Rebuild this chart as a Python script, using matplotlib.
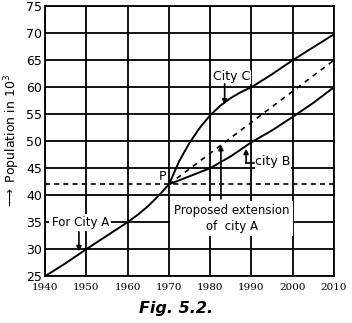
import matplotlib
matplotlib.use("Agg")
import matplotlib.pyplot as plt

# values (population in thousands)
years_a = [1940, 1945, 1950, 1955, 1960, 1962.5, 1965, 1967.5, 1970]
city_a = [25, 27.4, 30, 32.5, 35, 36.4, 38, 39.9, 42]

years_c = [1970, 1972.5, 1975, 1977.5, 1980, 1982.5, 1985, 1987.5, 1990,
           1995, 2000, 2005, 2010]
city_c = [42, 46.3, 49.7, 52.5, 54.8, 56.6, 58, 59.1, 60,
          62.4, 65, 67.4, 69.8]

years_b = [1970, 1975, 1980, 1985, 1990, 1995, 2000, 2005, 2010]
city_b = [42, 43.5, 45, 47.2, 49.8, 52, 54.5, 57.1, 60]

years_ext = [1970, 2010]
city_a_ext = [42, 65]

p_level = 42
xticks = [1940, 1950, 1960, 1970, 1980, 1990, 2000, 2010]
yticks = [25, 30, 35, 40, 45, 50, 55, 60, 65, 70, 75]

fig = plt.figure(figsize=(3.52, 3.23), dpi=100)
ax = fig.add_axes([0.128, 0.145, 0.821, 0.836])

ax.set_xlim(1940, 2010)
ax.set_ylim(25, 75)
ax.set_xticks(xticks)
ax.set_yticks(yticks)
ax.set_xticklabels([str(t) for t in xticks], fontfamily="DejaVu Serif", fontsize=7.5)
ax.set_yticklabels([str(t) for t in yticks], fontsize=9)
ax.tick_params(axis="x", length=0, pad=5)
ax.tick_params(axis="y", length=0, pad=2)
ax.grid(True, color="black", linewidth=1.3)
ax.set_axisbelow(True)
for s in ax.spines.values():
    s.set_linewidth(1.3)

# curves
ax.plot(years_a, city_a, color="black", linewidth=1.4, zorder=3)
ax.plot(years_c, city_c, color="black", linewidth=1.4, zorder=3)
ax.plot(years_b, city_b, color="black", linewidth=1.4, zorder=3)
ax.plot(years_ext, city_a_ext, color="black", linewidth=1.2, linestyle=(0, (3, 3)), zorder=3)
ax.plot([1940, 2010], [p_level, p_level], color="black", linewidth=1.2,
        linestyle=(0, (3, 2.5)), zorder=3)

arrow = dict(arrowstyle="-|>", color="black", linewidth=1.2, mutation_scale=7,
             shrinkA=0, shrinkB=0)

# P
ax.text(1968.4, 43.4, "P", fontsize=9, ha="center", va="center", zorder=5)

# For City A
ax.text(1948.5, 35, "For City A", fontsize=8.5, ha="center", va="center", zorder=5,
        bbox=dict(facecolor="white", edgecolor="none", pad=1.5))
ax.annotate("", xy=(1948.2, 29.6), xytext=(1948.2, 33.2), arrowprops=arrow, zorder=5)

# City C
ax.text(1985.3, 61.9, "City C", fontsize=9, ha="center", va="center", zorder=5,
        bbox=dict(facecolor="white", edgecolor="none", pad=0.5))
ax.annotate("", xy=(1983.5, 56.8), xytext=(1983.5, 60.6), arrowprops=arrow, zorder=5)

# city B
ax.text(1995.2, 46.2, "city B", fontsize=9, ha="center", va="center", zorder=5,
        bbox=dict(facecolor="white", edgecolor="none", pad=0.5))
ax.plot([1990.6, 1988.7], [46.0, 46.0], color="black", linewidth=1.2, zorder=5)
ax.annotate("", xy=(1988.7, 48.6), xytext=(1988.7, 46.0), arrowprops=arrow, zorder=5)

# Proposed extension of city A
ax.text(1985.2, 35.7, "Proposed extension\nof  city A", fontsize=8.5, ha="center",
        va="center", linespacing=1.25, zorder=5,
        bbox=dict(facecolor="white", edgecolor="none", pad=2.5))
ax.annotate("", xy=(1982.6, 49.3), xytext=(1982.6, 39.3), arrowprops=arrow, zorder=4)

ax.set_ylabel(r"$\longrightarrow$ Population in 10$^3$", fontsize=9, labelpad=3)

fig.text(0.5, 0.045, "Fig. 5.2.", fontsize=11.5, fontweight="bold",
         fontstyle="italic", ha="center", va="center")

fig.savefig("out.png", dpi=100)
